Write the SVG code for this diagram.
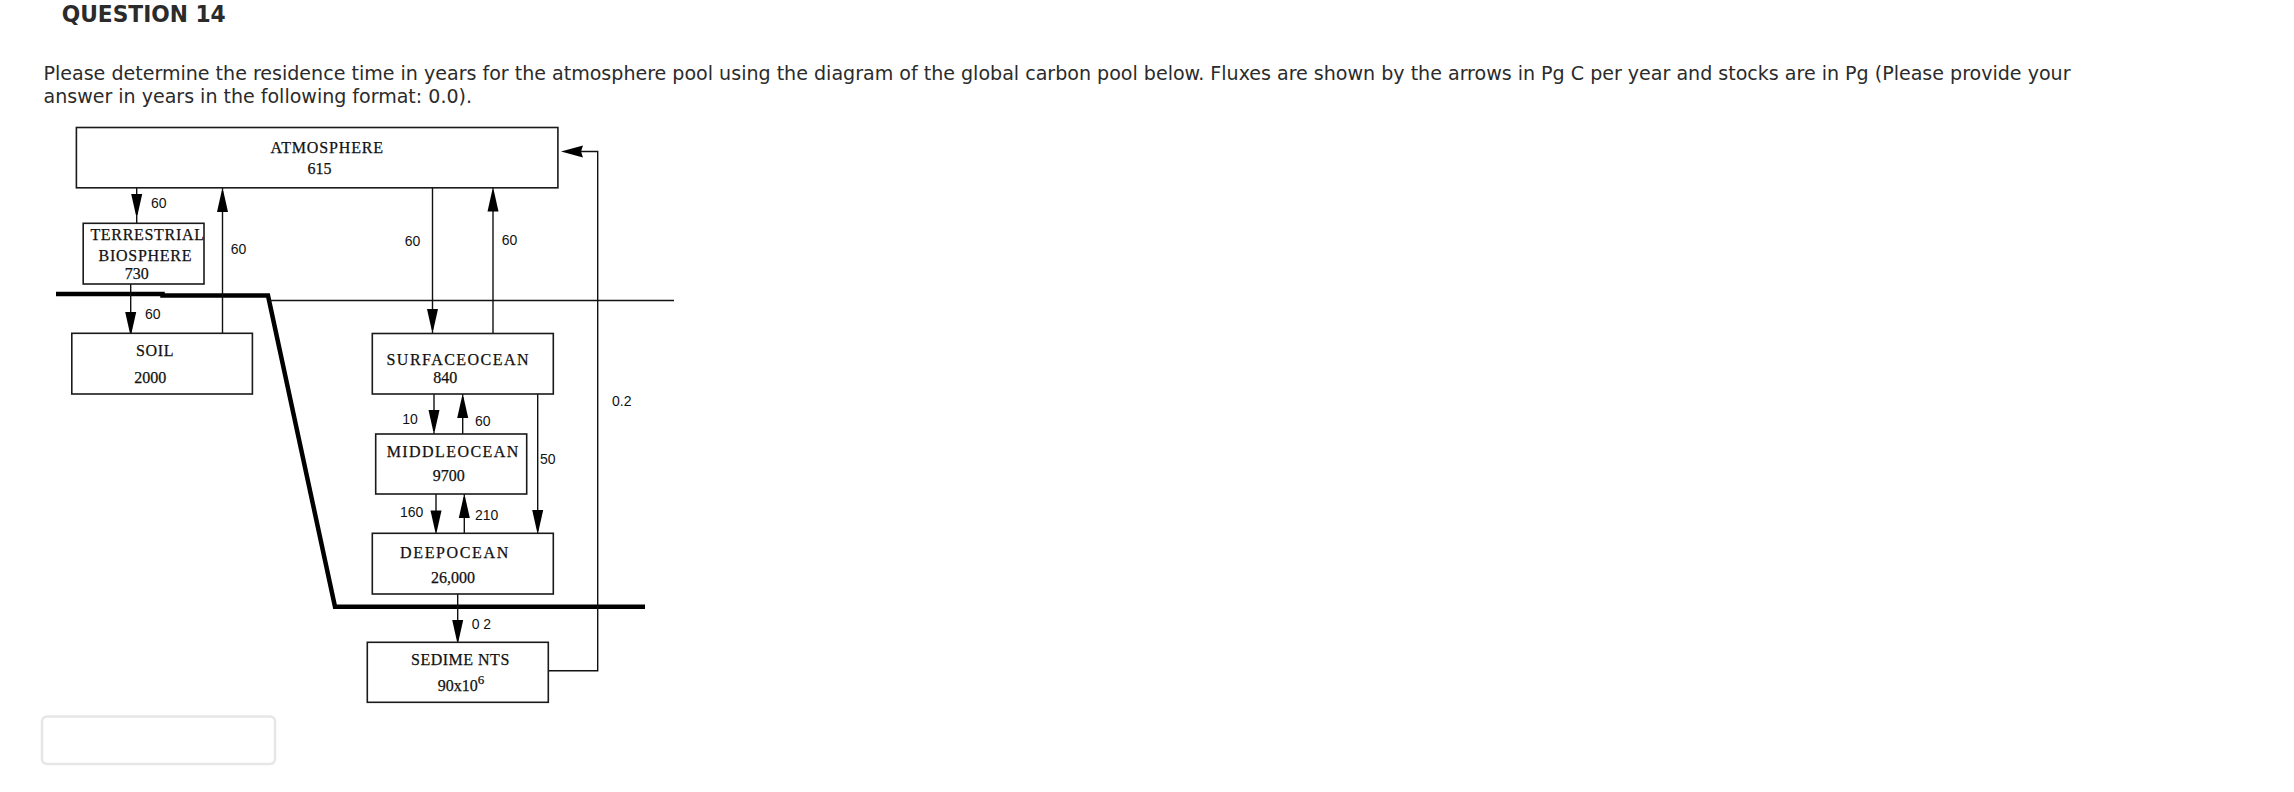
<svg xmlns="http://www.w3.org/2000/svg" width="2294" height="792" viewBox="0 0 2294 792">
<style>
.q{font-family:"DejaVu Sans Condensed","DejaVu Sans","Liberation Sans",sans-serif;fill:#2b2b2b}
.box{fill:#fff;stroke:#1a1a1a;stroke-width:1.6}
.nt{font-family:"Liberation Serif","DejaVu Serif",serif;font-size:16px;fill:#111;stroke:#111;stroke-width:0.25}
.fl{font-family:"Liberation Sans","DejaVu Sans",sans-serif;font-size:14px;fill:#111}
.ln{fill:none;stroke:#111;stroke-width:1.4}
.thick{fill:none;stroke:#000;stroke-width:4.5;stroke-linejoin:miter}
.head{fill:#000}
</style>
<defs>
<path id="hd" d="M-5.5,-21 L5.5,-21 L3.5,-12 L0.8,0 L-0.8,0 L-3.5,-12 Z"/>
<path id="hl" d="M0,0 L22,-6 L20,0 L22,6 Z"/>
</defs>
<rect x="0" y="0" width="2294" height="792" fill="#fff"/>

<g id="question">
<text class="q" x="61.7" y="21.5" font-size="23" font-weight="bold" textLength="164" lengthAdjust="spacingAndGlyphs">QUESTION 14</text>
<text class="q" x="43.5" y="80" font-size="20" textLength="2027" lengthAdjust="spacingAndGlyphs">Please determine the residence time in years for the atmosphere pool using the diagram of the global carbon pool below. Fluxes are shown by the arrows in Pg C per year and stocks are in Pg (Please provide your</text>
<text class="q" x="43.5" y="103" font-size="20" textLength="428.5" lengthAdjust="spacingAndGlyphs">answer in years in the following format: 0.0).</text>
</g>

<g id="boundaries">
<polyline class="thick" points="56,294 162.5,294 162.5,295.5 268,295.5 335,606.7 645,606.7"/>
<line class="ln" x1="269" y1="300.5" x2="674" y2="300.5" stroke-width="1.2"/>
</g>

<g id="connectors">
<line class="ln" x1="136.7" y1="188" x2="136.7" y2="223.3"/>
<use href="#hd" class="head" transform="translate(136.7,215)"/>
<line class="ln" x1="222.5" y1="333.3" x2="222.5" y2="188"/>
<use href="#hd" class="head" transform="translate(222.5,191) rotate(180)"/>
<line class="ln" x1="130.7" y1="284" x2="130.7" y2="333.3"/>
<use href="#hd" class="head" transform="translate(130.7,333)"/>
<line class="ln" x1="432.5" y1="188" x2="432.5" y2="333.5"/>
<use href="#hd" class="head" transform="translate(432.5,330)"/>
<line class="ln" x1="493" y1="333.5" x2="493" y2="188"/>
<use href="#hd" class="head" transform="translate(493,190.5) rotate(180)"/>
<line class="ln" x1="434" y1="394" x2="434" y2="434"/>
<use href="#hd" class="head" transform="translate(434,431)"/>
<line class="ln" x1="462.7" y1="434" x2="462.7" y2="394"/>
<use href="#hd" class="head" transform="translate(462.7,397) rotate(180)"/>
<line class="ln" x1="537.7" y1="394" x2="537.7" y2="533.3"/>
<use href="#hd" class="head" transform="translate(537.7,531)"/>
<line class="ln" x1="436" y1="494" x2="436" y2="533.3"/>
<use href="#hd" class="head" transform="translate(436,531.5)"/>
<line class="ln" x1="464.3" y1="533.3" x2="464.3" y2="494"/>
<use href="#hd" class="head" transform="translate(464.3,497) rotate(180)"/>
<line class="ln" x1="457.7" y1="594" x2="457.7" y2="642.3"/>
<use href="#hd" class="head" transform="translate(457.7,641)"/>
<polyline class="ln" points="548.3,670.7 597.7,670.7 597.7,151.5 570,151.5"/>
<use href="#hl" class="head" transform="translate(561,151.5)"/>
<text class="fl" x="151" y="207.5">60</text>
<text class="fl" x="230.7" y="254.3">60</text>
<text class="fl" x="145" y="319.3">60</text>
<text class="fl" x="404.7" y="246">60</text>
<text class="fl" x="501.8" y="245">60</text>
<text class="fl" x="402.3" y="424.3">10</text>
<text class="fl" x="475" y="426">60</text>
<text class="fl" x="540" y="464.3">50</text>
<text class="fl" x="612" y="406">0.2</text>
<text class="fl" x="400" y="516.7">160</text>
<text class="fl" x="475" y="520">210</text>
<text class="fl" x="471.7" y="629.3">0 2</text>
</g>

<g id="atmosphere">
<rect class="box" x="76.4" y="127.5" width="481.5" height="60.3"/>
<text class="nt" x="326.8" y="153.3" text-anchor="middle" textLength="112.5" lengthAdjust="spacing">ATMOSPHERE</text>
<text class="nt" x="319.6" y="174.3" text-anchor="middle">615</text>
</g>

<g id="terrestrial">
<rect class="box" x="83.2" y="223.3" width="120.8" height="60.7"/>
<text class="nt" x="90.4" y="240" textLength="113.6" lengthAdjust="spacing">TERRESTRIAL</text>
<text class="nt" x="145" y="261" text-anchor="middle" textLength="93" lengthAdjust="spacing">BIOSPHERE</text>
<text class="nt" x="136.8" y="279.3" text-anchor="middle">730</text>
</g>

<g id="soil">
<rect class="box" x="71.8" y="333.3" width="180.6" height="60.7"/>
<text class="nt" x="154.8" y="356" text-anchor="middle" textLength="37.5" lengthAdjust="spacing">SOIL</text>
<text class="nt" x="150.2" y="382.7" text-anchor="middle">2000</text>
</g>

<g id="surface-ocean">
<rect class="box" x="372.3" y="333.5" width="181" height="60.5"/>
<text class="nt" x="386.5" y="364.7" textLength="142" lengthAdjust="spacing">SURFACEOCEAN</text>
<text class="nt" x="433.3" y="382.5">840</text>
</g>

<g id="middle-ocean">
<rect class="box" x="375.7" y="434" width="151" height="60"/>
<text class="nt" x="386.7" y="456.7" textLength="131.6" lengthAdjust="spacing">MIDDLEOCEAN</text>
<text class="nt" x="432.7" y="480.7">9700</text>
</g>

<g id="deep-ocean">
<rect class="box" x="372.3" y="533.3" width="181" height="60.7"/>
<text class="nt" x="400" y="558.3" textLength="108.3" lengthAdjust="spacing">DEEPOCEAN</text>
<text class="nt" x="431" y="582.7">26,000</text>
</g>

<g id="sediments">
<rect class="box" x="367.3" y="642.3" width="181" height="60"/>
<text class="nt" x="411" y="665" textLength="98.3" lengthAdjust="spacing">SEDIME NTS</text>
<text class="nt" x="437.7" y="690.7">90x10<tspan font-size="13" dy="-7">6</tspan></text>
</g>

<g id="answer-box">
<rect x="42" y="716.5" width="233" height="47.5" rx="5" ry="5" fill="#fff" stroke="#e6e6e6" stroke-width="2.5"/>
</g>
</svg>
